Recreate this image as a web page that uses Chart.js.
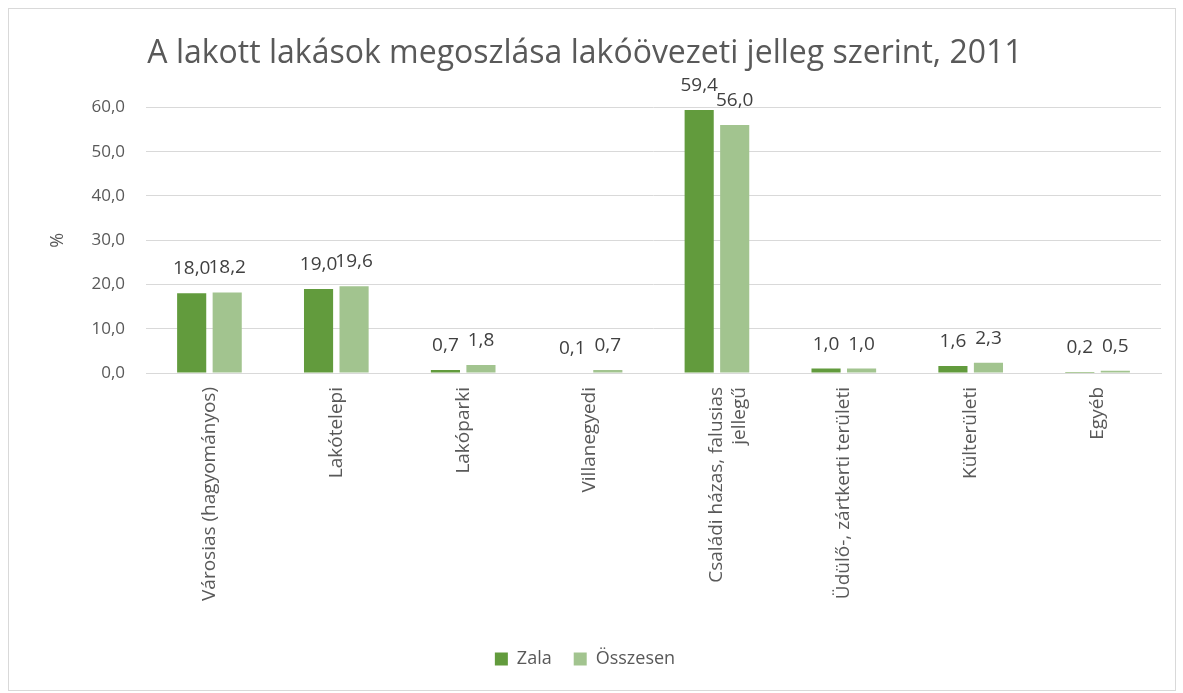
<!DOCTYPE html>
<html>
<head>
<meta charset="utf-8">
<script src="https://cdn.jsdelivr.net/npm/chart.js@4.4.0/dist/chart.umd.min.js"></script>
<style>
    body { margin: 0; background: #ffffff; }
    #wrap {
        position: absolute; left: 8px; top: 8px;
        width: 1166px; height: 681px;
        border: 1px solid #d9d9d9; background: #ffffff;
    }
</style>
</head>
<body>
<div id="wrap"><canvas id="chart" width="1166" height="681"></canvas></div>
<script>
// Chart data
const categories = [
    'Városias (hagyományos)',
    'Lakótelepi',
    'Lakóparki',
    'Villanegyedi',
    ['Családi házas, falusias', 'jellegű'],
    'Üdülő-, zártkerti területi',
    'Külterületi',
    'Egyéb'
];
const zalaValues = [18.0, 19.0, 0.7, 0.1, 59.4, 1.0, 1.6, 0.2];
const osszesenValues = [18.2, 19.6, 1.8, 0.7, 56.0, 1.0, 2.3, 0.5];
const seriesNames = ['Zala', 'Összesen'];
const yTicks = [0, 10, 20, 30, 40, 50, 60];

const COLORS = {
    zala: '#629b3d',
    osszesen: '#a2c48f',
    text: '#595959',
    label: '#404040',
    grid: '#d9d9d9'
};
const FONT = "'Open Sans', 'Noto Sans', sans-serif";

// Format number with decimal comma
function formatValue(value) {
    return value.toFixed(1).replace('.', ',');
}

// Value labels above the bars
const valueLabels = {
    id: 'valueLabels',
    afterDatasetsDraw(chart) {
        const ctx = chart.ctx;
        ctx.save();
        ctx.font = '19px ' + FONT;
        ctx.fillStyle = COLORS.label;
        ctx.textAlign = 'center';
        ctx.textBaseline = 'alphabetic';
        chart.data.datasets.forEach((ds, i) => {
            chart.getDatasetMeta(i).data.forEach((bar, j) => {
                ctx.fillText(formatValue(ds.data[j]), bar.x, bar.y - 19);
            });
        });
        ctx.restore();
    }
};

// Rotated "%" axis title
const axisTitle = {
    id: 'axisTitle',
    afterDraw(chart) {
        const area = chart.chartArea;
        const ctx = chart.ctx;
        ctx.save();
        ctx.translate(49, (area.top + area.bottom) / 2);
        ctx.rotate(-Math.PI / 2);
        ctx.font = '18px ' + FONT;
        ctx.fillStyle = COLORS.text;
        ctx.textAlign = 'center';
        ctx.textBaseline = 'middle';
        ctx.fillText('%', 0, 0);
        ctx.restore();
    }
};

new Chart(document.getElementById('chart'), {
    type: 'bar',
    data: {
        labels: categories,
        datasets: [{
            label: seriesNames[0],
            data: zalaValues,
            backgroundColor: COLORS.zala,
            categoryPercentage: 0.56,
            barPercentage: 0.82
        }, {
            label: seriesNames[1],
            data: osszesenValues,
            backgroundColor: COLORS.osszesen,
            categoryPercentage: 0.56,
            barPercentage: 0.82
        }]
    },
    options: {
        responsive: false,
        animation: false,
        layout: {
            padding: { left: 0, right: 14, top: 0, bottom: 12 }
        },
        plugins: {
            title: {
                display: true,
                text: 'A lakott lakások megoszlása lakóövezeti jelleg szerint, 2011',
                color: COLORS.text,
                font: { family: FONT, size: 32, weight: 'normal' },
                padding: { top: 26, bottom: 34 }
            },
            legend: {
                position: 'bottom',
                labels: {
                    color: COLORS.text,
                    font: { family: FONT, size: 18 },
                    boxWidth: 13,
                    boxHeight: 13,
                    padding: 22
                }
            },
            tooltip: { enabled: false }
        },
        scales: {
            x: {
                afterFit(scale) { scale.height = 255; },
                grid: { display: false },
                border: { color: COLORS.grid },
                ticks: {
                    color: COLORS.text,
                    font: { family: FONT, size: 19 },
                    minRotation: 90,
                    maxRotation: 90,
                    padding: 6
                }
            },
            y: {
                min: 0,
                max: 60,
                afterFit(scale) { scale.width = 137; },
                afterBuildTicks(scale) {
                    scale.ticks = yTicks.map(v => ({ value: v }));
                },
                grid: { color: COLORS.grid, drawTicks: false },
                border: { display: false },
                ticks: {
                    color: COLORS.text,
                    font: { family: FONT, size: 17 },
                    padding: 21,
                    callback: value => formatValue(value)
                }
            }
        }
    },
    plugins: [valueLabels, axisTitle]
});
</script>
</body>
</html>
